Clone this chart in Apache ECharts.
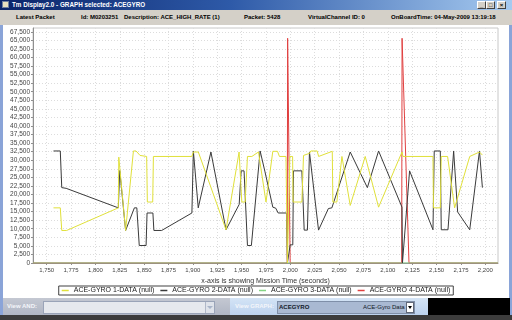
<!DOCTYPE html>
<html><head><meta charset="utf-8">
<script src="https://cdn.jsdelivr.net/npm/echarts@6.0.0/dist/echarts.min.js"></script>
<style>
html,body{margin:0;padding:0;width:512px;height:320px;overflow:hidden;background:#8aa4d8;font-family:"Liberation Sans",Arial,sans-serif;}
.a{position:absolute;white-space:nowrap;}
#title{left:0;top:0;width:512px;height:10px;background:linear-gradient(to right,#0a246a,#2e5aa8 45%,#a6caf0);}
#ttext{left:12px;top:0;height:10px;line-height:10px;color:#fff;font-weight:bold;font-size:6.3px;}
#icon{left:2px;top:1px;width:7px;height:7px;background:#e8e0c0;border:1px solid #7080a0;box-sizing:border-box;}
.btn{top:1px;width:9px;height:8px;background:#d4d0c8;border-top:1px solid #fff;border-left:1px solid #fff;border-right:1px solid #404040;border-bottom:1px solid #404040;box-sizing:border-box;font-size:6px;line-height:6px;text-align:center;font-weight:bold;color:#000;}
#info{left:0;top:10px;width:512px;height:15px;background:#d4d0c8;}
.it{top:10px;height:15px;line-height:15px;font-size:6px;font-weight:bold;color:#000;}
#chart{left:3px;top:25px;width:506px;height:273px;background:#fff;}
#bl{left:3px;top:298px;width:227px;height:17px;background:linear-gradient(to bottom,#c4c8d2,#b0b6c4);}
#bm{left:230px;top:298px;width:198px;height:17px;background:linear-gradient(to bottom,#d4e4f6,#bcd2ee);}
#br{left:428px;top:298px;width:82px;height:18px;background:#000;}
.lbl{top:298px;height:17px;line-height:17px;font-size:6px;font-weight:bold;color:#f4f6fa;}
#c1{left:43px;top:301px;width:172px;height:13px;background:#e6e9ee;border:1px solid #9aa4b8;box-sizing:border-box;}
#c1b{left:205px;top:302px;width:9px;height:11px;background:#dfe3ea;border-left:1px solid #b0b8c8;box-sizing:border-box;}
#c1t{left:207px;top:306px;width:0;height:0;border-left:3px solid transparent;border-right:3px solid transparent;border-top:3px solid #a8b4c8;}
#c2{left:277px;top:301px;width:138px;height:13px;background:#a9b9d2;border:1px solid #7f8fa8;box-sizing:border-box;}
.ct{top:301px;height:13px;line-height:13px;font-size:6px;font-weight:bold;color:#101828;}
#c2b{left:406px;top:302px;width:8px;height:11px;background:#fff;border:1px solid #606878;box-sizing:border-box;}
#c2t{left:407.5px;top:306px;width:0;height:0;border-left:2.5px solid transparent;border-right:2.5px solid transparent;border-top:3px solid #000;}
#bot{left:0;top:315px;width:512px;height:5px;background:#3c3c3c;}
</style>
</head><body>
<div class="a" id="title"></div>
<div class="a" id="icon"></div>
<div class="a" id="ttext">Tm Display2.0 - GRAPH selected: ACEGYRO</div>
<div class="a btn" style="left:477px">_</div>
<div class="a btn" style="left:486px">□</div>
<div class="a btn" style="left:497px">×</div>
<div class="a" id="info"></div>
<div class="a it" style="left:16px">Latest Packet</div>
<div class="a it" style="left:81px">Id: M0203251</div>
<div class="a it" style="left:124px">Description: ACE_HIGH_RATE (1)</div>
<div class="a it" style="left:244px">Packet: 5428</div>
<div class="a it" style="left:308px">VirtualChannel ID: 0</div>
<div class="a it" style="left:391px">OnBoardTime: 04-May-2009 13:19:18</div>
<div class="a" id="chart"></div>
<div class="a" id="bl"></div>
<div class="a" id="bm"></div>
<div class="a" id="br"></div>
<div class="a lbl" style="left:7px">View AND:</div>
<div class="a lbl" style="left:235px">View GRAPH:</div>
<div class="a" id="c1"></div>
<div class="a" id="c1b"></div>
<div class="a" id="c1t"></div>
<div class="a" id="c2"></div>
<div class="a ct" style="left:279px">ACEGYRO</div>
<div class="a ct" style="left:363px;font-weight:normal">ACE-Gyro Data</div>
<div class="a" id="c2b"></div>
<div class="a" id="c2t"></div>
<div class="a" id="bot"></div>
<script>
var seriesNames = ['ACE-GYRO 1-DATA (null)','ACE-GYRO 2-DATA (null)','ACE-GYRO 3-DATA (null)','ACE-GYRO 4-DATA (null)'];
var xTicks = [1750,1775,1800,1825,1850,1875,1900,1925,1950,1975,2000,2025,2050,2075,2100,2125,2150,2175,2200];
var yTicks = [0,2500,5000,7500,10000,12500,15000,17500,20000,22500,25000,27500,30000,32500,35000,37500,40000,42500,45000,47500,50000,52500,55000,57500,60000,62500,65000,67500];
var yellowT = [1757,1764,1765.5,1770.5,1823.5,1824,1831,1839,1841.7,1845.8,1852.6,1853.3,1858.8,1859.5,1898.9,1900.5,1905.6,1934,1947.4,1950.2,1953.6,1956,1960.5,1967.3,1975,1982,1986.8,1988.8,1995.5,1997,1999.5,2002.3,2002.8,2011.8,2013.5,2019.6,2021,2027.5,2029,2043,2043.6,2047.7,2052.9,2061.4,2076.8,2090.5,2114.5,2115.5,2146.3,2146.8,2153.8,2154.8,2161.3,2168.5,2184,2194,2197];
var yellowV = [16100,16100,9500,9500,16100,30900,9500,32700,32700,31400,31100,17800,17800,31100,31100,32400,32400,9700,32400,17800,17800,31100,31100,32400,17800,32600,32600,31100,31100,0,31100,31100,17800,17800,31400,32000,32700,32700,31100,32600,17800,17800,31100,16800,31100,16300,32400,31100,31100,16100,16100,31100,31100,16100,31100,32400,31500];
var blackT = [1757,1764,1765.5,1770,1823.5,1825,1831,1840,1842.5,1845,1852,1853,1859,1860,1868,1899,1900.5,1905.5,1918.5,1934,1947.5,1949.5,1952.5,1956,1960,1969,1974,1982,1985,1987.5,1996,1997,1999.8,2002.5,2003.2,2011.8,2014.2,2017.5,2019.6,2021,2028.9,2039,2042.6,2061.4,2079,2090.5,2114.5,2115,2122.3,2146.3,2147.6,2153.8,2154.8,2161.7,2167.5,2171.6,2184,2194,2197];
var blackV = [32700,32700,22000,21800,16100,27000,9500,16100,16100,5100,5100,14600,14600,9500,9500,14600,32700,16100,32400,9700,17100,26900,26900,5100,5100,32700,26600,16300,16000,14600,14600,0,5300,5300,26900,26900,9600,9600,32400,32400,9600,15900,16100,32400,22000,32700,16300,0,26900,9700,32700,32700,9700,9700,32700,14900,9700,32700,22000];
var greenT = [1736,2213];
var greenV = [0,0];
var redT = [1736,1996.8,1997.2,1999.8,2114.2,2114.6,2121.7,2213];
var redV = [0,0,65600,0,0,65600,0,0];

function zip(t,v){ return t.map(function(x,i){ return [x,v[i]]; }); }
var font = '"Liberation Sans", Arial, sans-serif';
var chart = echarts.init(document.getElementById('chart'));
function line(name,color,t,v){
  return {name:name,type:'line',data:zip(t,v),showSymbol:false,symbol:'none',
    lineStyle:{color:color,width:1},itemStyle:{color:color},animation:false};
}
chart.setOption({
  animation:false,
  textStyle:{fontFamily:font},
  grid:{left:30,top:3,width:465,height:235,show:true,borderColor:'#c8c8c8',borderWidth:1,backgroundColor:'#fff'},
  legend:{
    data:seriesNames, left:'center', top:261, icon:'rect', itemWidth:7, itemHeight:1.5, itemGap:6,
    padding:[1,3], borderColor:'#404040', borderWidth:1, backgroundColor:'#fff',
    textStyle:{fontSize:7,color:'#222',fontFamily:font}
  },
  xAxis:{
    type:'value', min:1736, max:2213,
    name:'x-axis is showing Mission Time (seconds)', nameLocation:'middle', nameGap:11,
    nameTextStyle:{fontSize:7,color:'#333',fontFamily:font},
    axisLine:{lineStyle:{color:'#909090'}},
    axisTick:{show:true,length:2,customValues:xTicks,lineStyle:{color:'#909090'}},
    axisLabel:{customValues:xTicks,fontSize:6,color:'#444',margin:4,fontFamily:font,
      formatter:function(v){return v.toLocaleString('en-US');}},
    splitLine:{show:true,lineStyle:{color:'#dcdcdc',type:[1,2],width:1}}
  },
  yAxis:{
    type:'value', min:0, max:68600,
    axisLine:{show:true,lineStyle:{color:'#909090'}},
    axisTick:{show:true,length:2,customValues:yTicks,lineStyle:{color:'#909090'}},
    axisLabel:{customValues:yTicks,fontSize:6.5,color:'#444',margin:3,fontFamily:font,
      formatter:function(v){return v.toLocaleString('en-US');}},
    splitLine:{show:true,lineStyle:{color:'#dcdcdc',type:[1,2],width:1}}
  },
  series:[
    line(seriesNames[3],'#e04040',redT,redV),
    line(seriesNames[2],'#84d484',greenT,greenV),
    line(seriesNames[1],'#3a3a3a',blackT,blackV),
    line(seriesNames[0],'#e0e03a',yellowT,yellowV)
  ]
});
</script>
</body></html>
